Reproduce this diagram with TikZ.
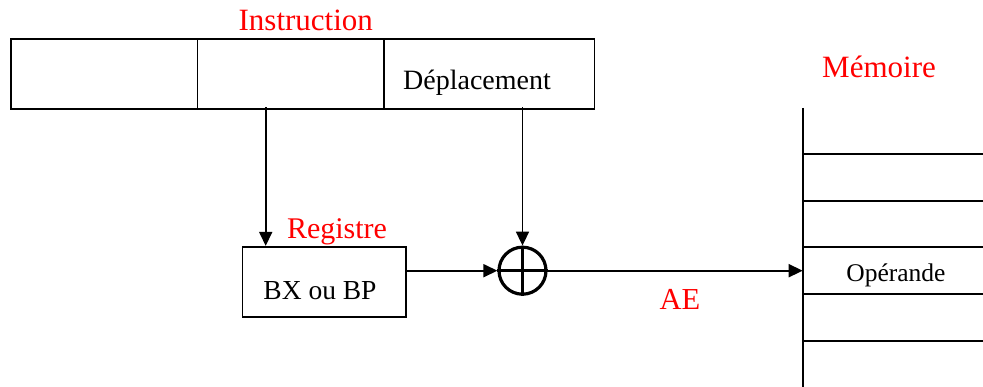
\documentclass[tikz,border=0pt]{standalone}
\usepackage{fontspec}
\setmainfont{Liberation Serif}
\usetikzlibrary{matrix,positioning,arrows.meta}

\begin{document}
\begin{tikzpicture}[
    x=1pt, y=-1pt, line width=1.7pt,
    fields/.style={matrix of nodes, row sep=-\pgflinewidth, column sep=-\pgflinewidth, inner sep=0pt, nodes={draw, minimum height=70pt, inner sep=0pt, anchor=center}},
    titre/.style={text=red, anchor=base, inner sep=0pt},
    fleche/.style={-{Triangle[length=14pt, width=13pt]}}
  ]
\useasboundingbox (0,0) rectangle (983,387);

% Instruction fields
  \matrix (instr) [fields, anchor=north west] at (9,37.3) {
|[minimum width=186.7pt]| & |[minimum width=186.6pt]| & |[minimum width=210.4pt]| \\
};
\node[titre, font=\fontsize{31}{31}\selectfont] (instrtxt) at (305.8,30.7) {Instruction};
\node[anchor=base, inner sep=0pt, font=\fontsize{28}{28}\selectfont] (depl) at (477,90) {Déplacement};

% Base register
\node[draw, minimum width=163.7pt, minimum height=70.3pt, inner sep=0pt] (reg) at (324.2,281.9) {};
\node[titre, font=\fontsize{30}{30}\selectfont] (regtxt) at (337,239) {Registre};
\node[anchor=base, inner sep=0pt, font=\fontsize{27.5}{27.5}\selectfont] (bx) at (320,300) {BX ou BP};

% Adder
\node[circle, draw, line width=3.2pt, minimum size=47pt, inner sep=0pt] (somme) at (522.5,270.7) {};
\draw[line width=3.2pt] (somme.north) -- (somme.south) (somme.west) -- (somme.east);

% Memory column
\draw (802.7,108) coordinate (memtop) -- (802.7,387);
\foreach \y in {154,201,247,294,341}
  \draw (802.7,\y) -- (983,\y);
\coordinate (mem) at (802.7,270.7);
\node[titre, font=\fontsize{31}{31}\selectfont] (memtxt) at (879,77.3) {Mémoire};
\node[anchor=base, inner sep=0pt, font=\fontsize{25.5}{25.5}\selectfont] (oper) at (896,282) {Opérande};

% Connections
\coordinate (d1) at (265.7,107.3);
\coordinate (d2) at (522.5,107.3);
\draw[fleche] (d1) -- (d1 |- reg.north);
\draw[fleche] (d2) -- (somme.north);
\draw[fleche] (reg.east |- somme.west) -- (somme.west);
\draw[fleche] (somme.east) -- (mem);
\node[titre, font=\fontsize{30.5}{30.5}\selectfont] (ae) at (680,310) {AE};

\end{tikzpicture}
\end{document}
